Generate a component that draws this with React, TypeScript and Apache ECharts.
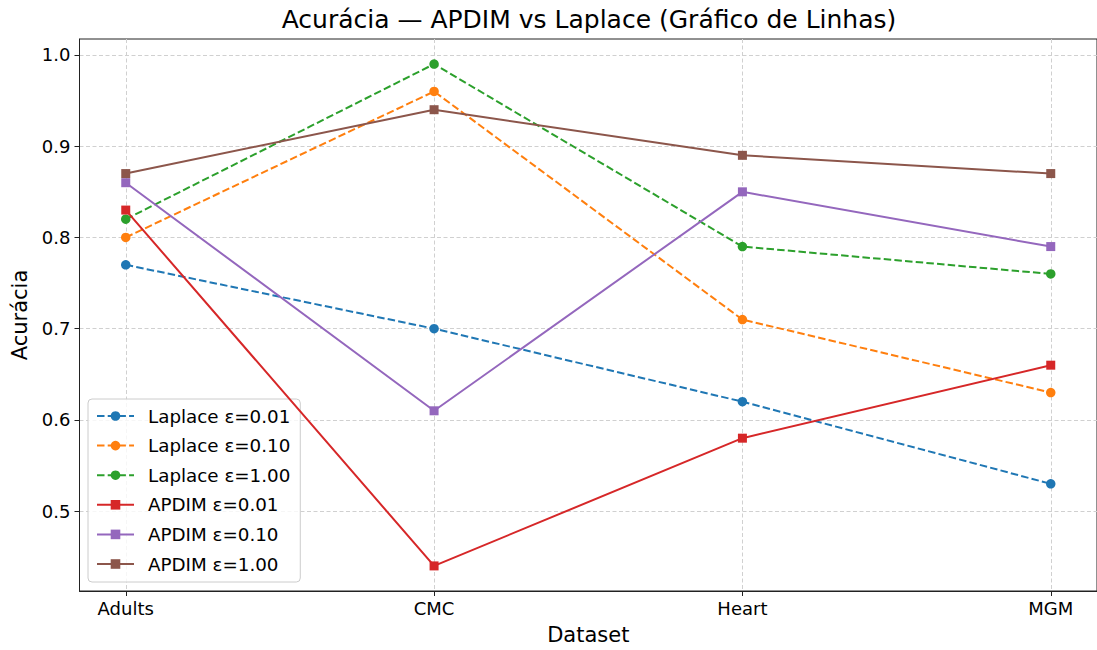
import React, { useEffect, useRef } from "react";
import * as echarts from "echarts";

const categories = ["Adults", "CMC", "Heart", "MGM"];
const seriesNames = [
  "Laplace ε=0.01",
  "Laplace ε=0.10",
  "Laplace ε=1.00",
  "APDIM ε=0.01",
  "APDIM ε=0.10",
  "APDIM ε=1.00",
];
const laplace001 = [0.77, 0.7, 0.62, 0.53];
const laplace010 = [0.8, 0.96, 0.71, 0.63];
const laplace100 = [0.82, 0.99, 0.79, 0.76];
const apdim001 = [0.83, 0.44, 0.58, 0.66];
const apdim010 = [0.86, 0.61, 0.85, 0.79];
const apdim100 = [0.87, 0.94, 0.89, 0.87];
const yTicks = [0.5, 0.6, 0.7, 0.8, 0.9, 1.0];

const colors = ["#1f77b4", "#ff7f0e", "#2ca02c", "#d62728", "#9467bd", "#8c564b"];
const FONT = "DejaVu Sans";

export default function App() {
  const ref = useRef<HTMLDivElement>(null);
  useEffect(() => {
    document.body.style.margin = "0";
    const chart = echarts.init(ref.current!, null, { renderer: "svg" });
    const allValues = [laplace001, laplace010, laplace100, apdim001, apdim010, apdim100];
    const flat = allValues.flat();
    const dmin = Math.min(...flat);
    const dmax = Math.max(...flat);
    const pad = (dmax - dmin) * 0.05;
    const xPad = (categories.length - 1) * 0.05;

    const series = allValues.map((vals, i) => {
      const isLaplace = i < 3;
      return {
        name: seriesNames[i],
        type: "line",
        data: vals.map((v, j) => [j, v]),
        symbol: isLaplace ? "circle" : "rect",
        symbolSize: isLaplace ? 9.5 : 9,
        showSymbol: true,
        itemStyle: { color: colors[i], borderWidth: 0 },
        lineStyle: {
          color: colors[i],
          width: 2,
          type: isLaplace ? [7.5, 3.2] : "solid",
        },
        emphasis: { disabled: true },
        z: 2 + i,
      };
    });

    chart.setOption({
      animation: false,
      title: {
        text: "Acurácia — APDIM vs Laplace (Gráfico de Linhas)",
        left: 589,
        top: 7,
        padding: 0,
        textAlign: "center",
        textStyle: { fontFamily: FONT, fontSize: 25, fontWeight: "normal", color: "#000" },
      },
      grid: {
        left: 79.5,
        top: 39,
        width: 1022,
        height: 553,
        show: true,
        borderColor: "#222",
        borderWidth: 1,
        backgroundColor: "transparent",
      },
      legend: {
        orient: "vertical",
        left: 88,
        top: 399,
        padding: [8, 10, 9, 8],
        itemWidth: 37,
        itemHeight: 12,
        itemGap: 11.6,
        backgroundColor: "rgba(255,255,255,0.8)",
        borderColor: "#cccccc",
        borderWidth: 1,
        borderRadius: 4,
        textStyle: { fontFamily: FONT, fontSize: 18.3, color: "#000", padding: [0, 0, 0, 9] },
        data: seriesNames,
      },
      xAxis: {
        type: "value",
        min: -xPad,
        max: categories.length - 1 + xPad,
        splitNumber: 3,
        name: "Dataset",
        nameLocation: "middle",
        nameGap: 33,
        nameTextStyle: { fontFamily: FONT, fontSize: 21, color: "#000" },
        axisLine: { show: true, onZero: false, lineStyle: { color: "#222", width: 1 } },
        axisTick: { show: true, length: 5, customValues: [0, 1, 2, 3], lineStyle: { color: "#222" } },
        axisLabel: {
          fontFamily: FONT,
          fontSize: 18,
          color: "#000",
          margin: 8,
          customValues: [0, 1, 2, 3],
          formatter: (v: number) => {
            const r = Math.round(v);
            return Math.abs(v - r) < 1e-6 && categories[r] ? categories[r] : "";
          },
        },
        splitLine: { show: true, lineStyle: { color: "#d0d0d0", width: 1, type: [4, 2.5] } },
      },
      yAxis: {
        type: "value",
        min: dmin - pad,
        max: dmax + pad,
        name: "Acurácia",
        nameLocation: "middle",
        nameGap: 47,
        nameTextStyle: { fontFamily: FONT, fontSize: 21, color: "#000" },
        axisLine: { show: true, onZero: false, lineStyle: { color: "#222", width: 1 } },
        axisTick: { show: true, length: 5, customValues: yTicks, lineStyle: { color: "#222" } },
        axisLabel: {
          fontFamily: FONT,
          fontSize: 18,
          color: "#000",
          margin: 9,
          customValues: yTicks,
          formatter: (v: number) => {
            const r = Math.round(v * 10) / 10;
            return Math.abs(v - r) < 1e-6 ? r.toFixed(1) : "";
          },
        },
        splitLine: { show: true, lineStyle: { color: "#d0d0d0", width: 1, type: [4, 2.5] } },
      },
      series,
    });
    return () => chart.dispose();
  }, []);
  return <div ref={ref} style={{ width: 1097, height: 650 }} />;
}
